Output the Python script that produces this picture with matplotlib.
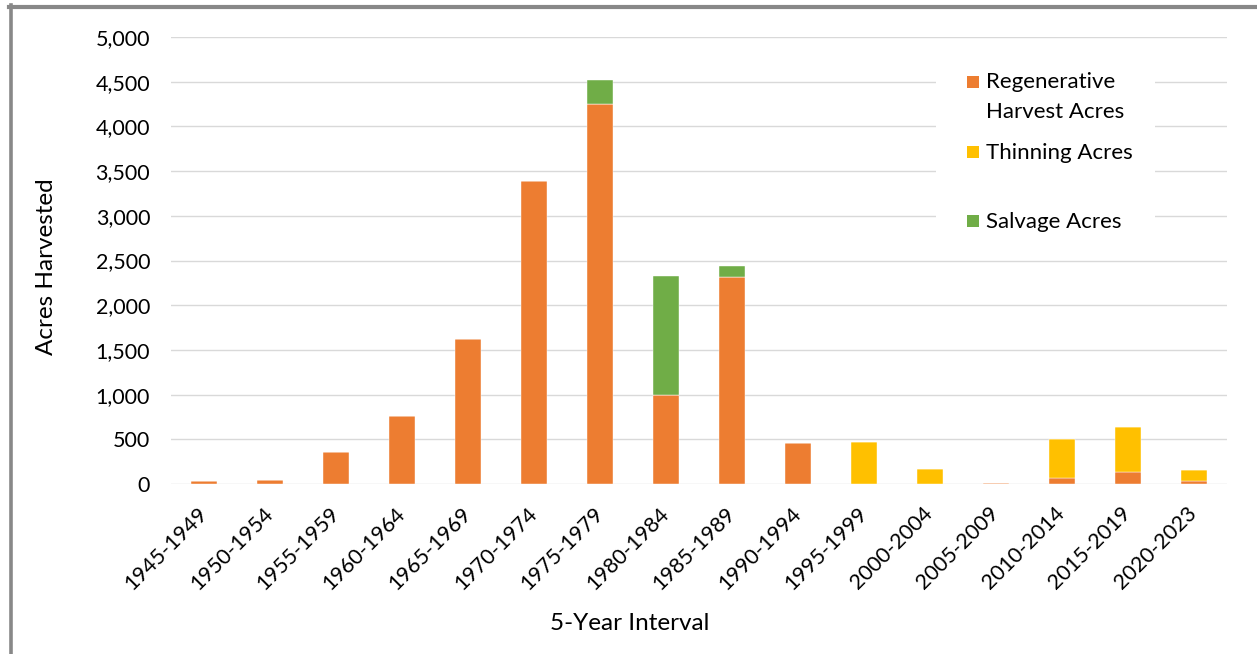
import matplotlib
matplotlib.use("Agg")
import matplotlib.pyplot as plt
from matplotlib.lines import Line2D
from matplotlib.patches import Rectangle
from matplotlib.ticker import FuncFormatter
import numpy as np

plt.rcParams['font.family'] = ['Lato', 'DejaVu Sans']

intervals = ["1945-1949", "1950-1954", "1955-1959", "1960-1964", "1965-1969",
             "1970-1974", "1975-1979", "1980-1984", "1985-1989", "1990-1994",
             "1995-1999", "2000-2004", "2005-2009", "2010-2014", "2015-2019",
             "2020-2023"]
regenerative = [35, 45, 355, 760, 1625, 3390, 4245, 1000, 2320, 460,
                0, 0, 15, 70, 138, 37]
thinning = [0, 0, 0, 0, 0, 0, 0, 0, 0, 0,
            470, 168, 0, 433, 500, 120]
salvage = [0, 0, 0, 0, 0, 0, 272, 1325, 122, 0,
           0, 0, 0, 0, 0, 0]

series_names = ["Regenerative\nHarvest Acres", "Thinning Acres", "Salvage Acres"]
colors = ["#ED7D31", "#FFC000", "#70AD47"]

W, H = 1257, 654
fig = plt.figure(figsize=(W / 100, H / 100), dpi=100)
ax = fig.add_axes([171 / W, 1 - 484 / H, (1227 - 171) / W, (484 - 37) / H])

x = np.arange(len(intervals))
reg = np.array(regenerative, dtype=float)
thin = np.array(thinning, dtype=float)
salv = np.array(salvage, dtype=float)
bw = 0.4
ax.bar(x, reg, bw, color=colors[0], edgecolor="#ffffff", linewidth=0.3, zorder=3)
ax.bar(x, thin, bw, bottom=reg, color=colors[1], edgecolor="#ffffff", linewidth=0.3, zorder=3)
ax.bar(x, salv, bw, bottom=reg + thin, color=colors[2], edgecolor="#ffffff", linewidth=0.3, zorder=3)

ax.set_xlim(-0.5, len(intervals) - 0.5)
ax.set_ylim(0, 5000)
ax.set_yticks(np.arange(0, 5001, 500))
ax.yaxis.set_major_formatter(FuncFormatter(lambda v, p: f"{int(v):,}"))
ax.set_xticks(x)
ax.set_xticklabels(intervals, rotation=45, ha="right", va="center",
                   rotation_mode="anchor")
ax.tick_params(axis="both", length=0, labelsize=15.5, colors="#000000")
ax.tick_params(axis="y", pad=15)
ax.tick_params(axis="x", pad=19)
ax.grid(axis="y", color="#d9d9d9", linewidth=1.0, zorder=0)
ax.set_axisbelow(True)
for s in ax.spines.values():
    s.set_visible(False)

fig.text(47 / W, 1 - 267 / H, "Acres Harvested", rotation=90, ha="center",
         va="center", fontsize=17.5)
fig.text(630 / W, 1 - 623 / H, "5-Year Interval", ha="center", va="center",
         fontsize=17.5)

# legend panel with white background over the gridlines
fig.patches.append(Rectangle((936 / W, 1 - 250 / H), (1155 - 936) / W, (250 - 48) / H,
                             transform=fig.transFigure, facecolor="white",
                             edgecolor="none", zorder=5))
square_y = [81.5, 152, 221]
for sq_y, col in zip(square_y, colors):
    fig.patches.append(Rectangle((967 / W, 1 - (sq_y + 6) / H), 12 / W, 12 / H,
                                 transform=fig.transFigure, facecolor=col,
                                 edgecolor="none", zorder=6))
fig.text(986 / W, 1 - 97 / H, series_names[0], ha="left", va="center",
         fontsize=16, linespacing=1.6, zorder=7)
fig.text(986 / W, 1 - 153 / H, series_names[1], ha="left", va="center",
         fontsize=16, zorder=7)
fig.text(986 / W, 1 - 222 / H, series_names[2], ha="left", va="center",
         fontsize=16, zorder=7)

# outer frame (top and left edges)
fig.add_artist(Line2D([9 / W, 1], [1 - 7 / H, 1 - 7 / H], transform=fig.transFigure,
                      color="#888888", linewidth=3.0))
fig.add_artist(Line2D([10.5 / W, 10.5 / W], [0, 1 - 5 / H], transform=fig.transFigure,
                      color="#888888", linewidth=2.6))

fig.savefig("out.png", dpi=100, facecolor="white")
